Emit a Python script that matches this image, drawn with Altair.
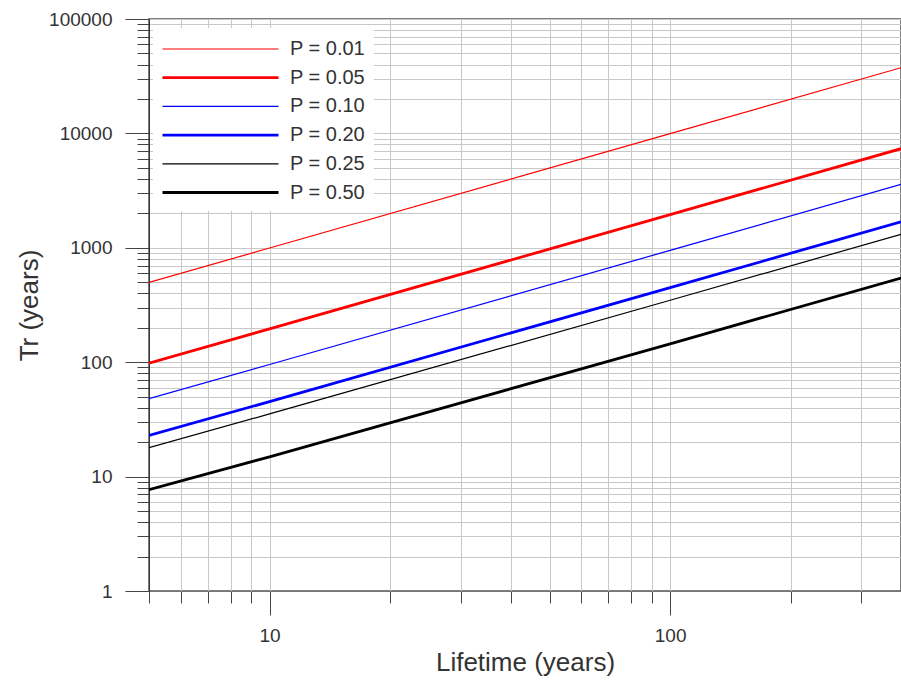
import altair as alt
import pandas as pd

# Return period Tr versus design lifetime for several exceedance probabilities P
lifetime = [5, 10, 100, 377]
p_levels = [0.01, 0.05, 0.10, 0.20, 0.25, 0.50]
p_labels = ["P = 0.01", "P = 0.05", "P = 0.10", "P = 0.20", "P = 0.25", "P = 0.50"]

tr_p01 = [498, 995.5, 9950, 37510]
tr_p05 = [98.0, 195.5, 1950, 7351]
tr_p10 = [48.0, 95.4, 949.6, 3579]
tr_p20 = [22.9, 45.3, 448.6, 1690]
tr_p25 = [17.9, 35.3, 348.1, 1311]
tr_p50 = [7.7, 14.9, 144.8, 544]

series = [tr_p01, tr_p05, tr_p10, tr_p20, tr_p25, tr_p50]
line_colors = ["#ff0000", "#ff0000", "#0000ff", "#0000ff", "#000000", "#000000"]
line_widths = [1.2, 2.8, 1.2, 2.8, 1.2, 2.8]
p_breaks = [0.03, 0.075, 0.15, 0.225, 0.375]

rows = []
for p, values in zip(p_levels, series):
    for L, tr in zip(lifetime, values):
        rows.append({"lifetime": L, "tr": tr, "P": p})
df = pd.DataFrame(rows)

FONT = "Liberation Sans"
TEXT = "#333333"

x_scale = alt.Scale(type="log", domain=[5, 377], nice=False)
y_scale = alt.Scale(type="log", domain=[1, 100000], nice=False)

x_minor = [5, 6, 7, 8, 9, 10, 20, 30, 40, 50, 60, 70, 80, 90, 100, 200, 300]
y_major = [1, 10, 100, 1000, 10000, 100000]
y_minor = [m * 10 ** k for k in range(5) for m in range(1, 10)] + [100000]

# Minor ticks and grid
grid_layer = alt.Chart(df).mark_line(opacity=0).encode(
    x=alt.X("lifetime:Q", scale=x_scale,
            axis=alt.Axis(orient="bottom", values=x_minor, labels=False, title=None,
                          tickSize=12, tickColor="#444444", domain=False,
                          grid=True, gridColor="#c8c8c8", gridWidth=1)),
    y=alt.Y("tr:Q", scale=y_scale,
            axis=alt.Axis(orient="left", values=y_minor, labels=False, title=None,
                          tickSize=12, tickColor="#444444", domain=False,
                          grid=True, gridColor="#c8c8c8", gridWidth=1)),
    detail="P:N",
)

legend = alt.Legend(
    orient="none", legendX=4, legendY=9, title=None,
    symbolType="M-1,0H8.667", symbolSize=576, symbolOffset=0,
    labelOffset=102, labelFontSize=20, labelFont=FONT, labelColor=TEXT,
    padding=8, fillColor="white", rowPadding=5.2,
    labelExpr="%s[datum.index]" % str(p_labels),
)

lines = alt.Chart(df).mark_line(clip=True, strokeCap="butt").encode(
    x=alt.X("lifetime:Q", scale=x_scale,
            axis=alt.Axis(orient="bottom", values=[10, 100], format="d",
                          tickSize=24, tickColor="#444444", labelPadding=11,
                          domainColor="#777777", grid=False,
                          title="Lifetime (years)", titlePadding=4)),
    y=alt.Y("tr:Q", scale=y_scale,
            axis=alt.Axis(orient="left", values=y_major, format="d",
                          tickSize=24, tickColor="#444444", labelPadding=13,
                          domainColor="#333333", grid=False,
                          title="Tr (years)", titlePadding=6)),
    color=alt.Color("P:Q", scale=alt.Scale(type="threshold", domain=p_breaks, range=line_colors),
                    legend=legend),
    strokeWidth=alt.StrokeWidth("P:Q", scale=alt.Scale(type="threshold", domain=p_breaks, range=line_widths),
                                legend=legend),
    detail="P:N",
)

chart = alt.layer(grid_layer, lines).resolve_axis(
    x="independent", y="independent"
).properties(
    width=752, height=572,
    autosize=alt.AutoSizeParams(type="none"),
    padding={"left": 149, "top": 19, "right": 0, "bottom": 89},
).configure_view(
    stroke="#555555", strokeWidth=1.5,
).configure_axis(
    labelFont=FONT, labelFontSize=19, labelColor=TEXT,
    titleFont=FONT, titleFontSize=26, titleFontWeight="normal", titleColor=TEXT,
)

chart.save("out.html", embed_options={"renderer": "svg", "actions": False})
